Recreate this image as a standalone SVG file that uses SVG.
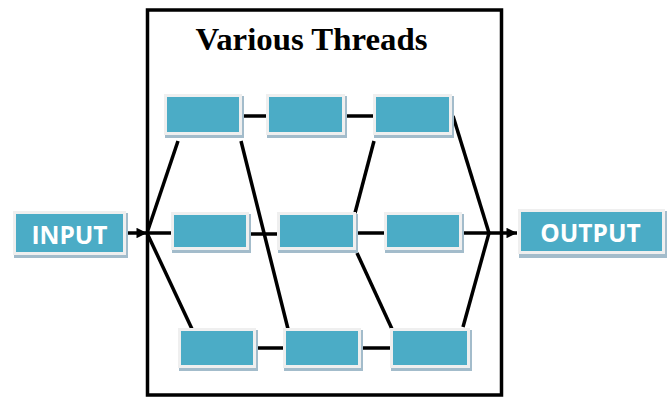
<svg xmlns="http://www.w3.org/2000/svg" width="669" height="398" viewBox="0 0 669 398">
<style>
.sh{fill:#a3bccb}
.fr{fill:#efefef}
.tl{fill:#4bacc6}
.ln{stroke:#000;stroke-width:3.5;fill:none;stroke-linecap:butt}
.lbl{font-family:"Open Sans","Liberation Sans",sans-serif;font-weight:bold;font-size:24.5px;fill:#fff;text-anchor:middle}
.title{font-family:"Liberation Serif",serif;font-weight:bold;font-size:32px;fill:#000;text-anchor:middle}
</style>
<defs>
<marker id="arr" viewBox="0 0 10 10" refX="10" refY="5" markerWidth="3.2" markerHeight="3" orient="auto" markerUnits="strokeWidth">
<path d="M0,0 L10,5 L0,10 z" fill="#000"/>
</marker>
</defs>
<rect x="0" y="0" width="669" height="398" fill="#fff"/>
<g id="frame">
<rect x="147.5" y="10" width="354" height="385" fill="none" stroke="#000" stroke-width="3.5"/>
<text class="title" x="311.5" y="50" textLength="232" lengthAdjust="spacingAndGlyphs">Various Threads</text>
</g>
<g id="connectors">
<line class="ln" x1="128" y1="233" x2="147" y2="233" marker-end="url(#arr)"/>
<line class="ln" x1="147" y1="233" x2="172" y2="233"/>
<line class="ln" x1="178" y1="141" x2="147" y2="233"/>
<line class="ln" x1="147" y1="233" x2="192" y2="329"/>
<line class="ln" x1="244" y1="116" x2="267" y2="116"/>
<line class="ln" x1="346" y1="116" x2="374" y2="116"/>
<line class="ln" x1="251" y1="234" x2="278" y2="234"/>
<line class="ln" x1="357" y1="233" x2="385" y2="233"/>
<line class="ln" x1="258" y1="348" x2="284" y2="348"/>
<line class="ln" x1="363" y1="348" x2="391" y2="348"/>
<line class="ln" x1="241" y1="141" x2="288" y2="329"/>
<line class="ln" x1="374" y1="141" x2="355" y2="213"/>
<line class="ln" x1="357" y1="253" x2="392" y2="329"/>
<line class="ln" x1="453" y1="116" x2="489" y2="233"/>
<line class="ln" x1="463" y1="327" x2="489" y2="233"/>
<line class="ln" x1="463" y1="233" x2="517" y2="233" marker-end="url(#arr)"/>
</g>
<g id="input">
<rect class="sh" x="14" y="213" width="114" height="45"/>
<rect class="fr" x="13" y="211" width="113" height="44"/>
<rect class="tl" x="16" y="214" width="107" height="38"/>
<text class="lbl" x="69.5" y="244">INPUT</text>
</g>
<g id="output">
<rect class="sh" x="519" y="211" width="148" height="47"/>
<rect class="fr" x="518" y="209" width="147" height="45"/>
<rect class="tl" x="521" y="212" width="141" height="39"/>
<text class="lbl" x="590.5" y="242">OUTPUT</text>
</g>
<g id="a1"><rect class="sh" x="165" y="96" width="79" height="42"/><rect class="fr" x="164" y="94" width="78" height="41"/><rect class="tl" x="167" y="97" width="72" height="35"/></g>
<g id="a2"><rect class="sh" x="267" y="96" width="80" height="42"/><rect class="fr" x="266" y="94" width="79" height="41"/><rect class="tl" x="269" y="97" width="73" height="35"/></g>
<g id="a3"><rect class="sh" x="374" y="96" width="80" height="42"/><rect class="fr" x="373" y="94" width="79" height="41"/><rect class="tl" x="376" y="97" width="73" height="35"/></g>
<g id="b1"><rect class="sh" x="172" y="214" width="79" height="39"/><rect class="fr" x="171" y="212" width="78" height="38"/><rect class="tl" x="174" y="215" width="72" height="32"/></g>
<g id="b2"><rect class="sh" x="278" y="214" width="80" height="39"/><rect class="fr" x="277" y="212" width="79" height="38"/><rect class="tl" x="280" y="215" width="73" height="32"/></g>
<g id="b3"><rect class="sh" x="385" y="214" width="79" height="39"/><rect class="fr" x="384" y="212" width="78" height="38"/><rect class="tl" x="387" y="215" width="72" height="32"/></g>
<g id="c1"><rect class="sh" x="179" y="330" width="79" height="41"/><rect class="fr" x="178" y="328" width="78" height="40"/><rect class="tl" x="181" y="331" width="72" height="34"/></g>
<g id="c2"><rect class="sh" x="284" y="330" width="79" height="41"/><rect class="fr" x="283" y="328" width="78" height="40"/><rect class="tl" x="286" y="331" width="72" height="34"/></g>
<g id="c3"><rect class="sh" x="391" y="330" width="81" height="41"/><rect class="fr" x="390" y="328" width="80" height="40"/><rect class="tl" x="393" y="331" width="74" height="34"/></g>
</svg>
